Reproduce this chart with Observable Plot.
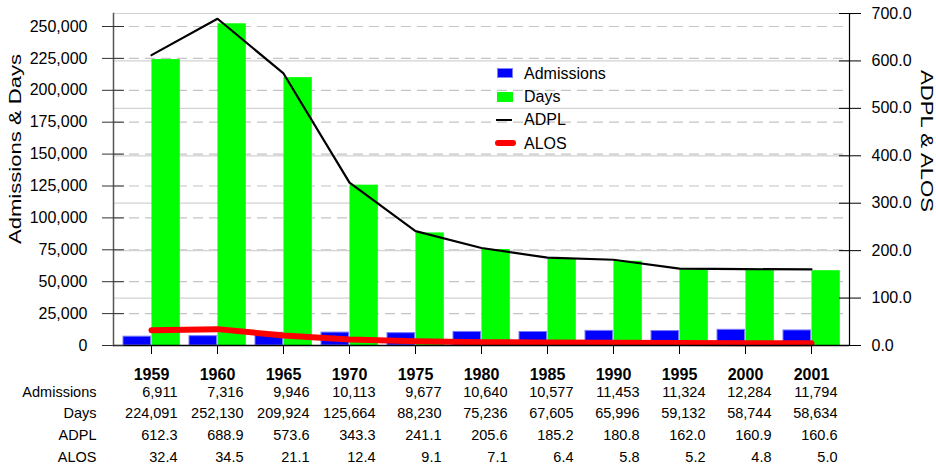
<!DOCTYPE html>
<html><head><meta charset="utf-8">
<script src="https://cdn.jsdelivr.net/npm/d3@7"></script>
<script src="https://cdn.jsdelivr.net/npm/@observablehq/plot@0.6"></script>
<style>
body{margin:0;background:#fff;font-family:"Liberation Sans",Arial,sans-serif;}
#wrap{position:relative;width:936px;height:468px;}
#wrap svg{display:block;}
.legend{position:absolute;left:495px;top:61.5px;font-size:16px;color:#000;}
.legend .row{height:23.4px;line-height:23.4px;position:relative;padding-left:29px;white-space:nowrap;}
.legend .sw{position:absolute;top:50%;}
.sw.blue{left:2px;width:14px;height:8px;margin-top:-5px;background:#0000ff;border:1px solid #8080ff;}
.sw.green{left:2px;width:16px;height:10px;margin-top:-5px;background:#00ff00;}
.sw.black{left:1px;width:16px;height:2px;margin-top:-1px;background:#000;}
.sw.red{left:0px;width:21px;height:6px;margin-top:-3px;background:#ff0000;border-radius:3px;}
</style></head><body>
<div id="wrap"></div>
<script>
const years = ["1959","1960","1965","1970","1975","1980","1985","1990","1995","2000","2001"];
const admissions = [6911,7316,9946,10113,9677,10640,10577,11453,11324,12284,11794];
const days = [224091,252130,209924,125664,88230,75236,67605,65996,59132,58744,58634];
const adpl = [612.3,688.9,573.6,343.3,241.1,205.6,185.2,180.8,162.0,160.9,160.6];
const alos = [32.4,34.5,21.1,12.4,9.1,7.1,6.4,5.8,5.2,4.8,5.0];
const leftTicks = [0,25000,50000,75000,100000,125000,150000,175000,200000,225000,250000];
const rightTicks = [0,100,200,300,400,500,600,700];
const rowLabels = ["Admissions","Days","ADPL","ALOS"];
const seriesNames = ["Admissions","Days","ADPL","ALOS"];
const leftTitle = "Admissions & Days";
const rightTitle = "ADPL & ALOS";

const YMAX = 260190;
const K = YMAX / 700;
const data = years.map((y, i) => ({year: y, admissions: admissions[i], days: days[i], adpl: adpl[i], alos: alos[i]}));
const fmtInt = d3.format(",");
const fmt1 = d3.format(".1f");
const rowFormatters = [d => fmtInt(d.admissions), d => fmtInt(d.days), d => fmt1(d.adpl), d => fmt1(d.alos)];
const rowDy = [51, 72, 94, 116];

const bw = (936 - 113 - 87) / years.length;
const half = bw / 2;

const tableMarks = [];
rowFormatters.forEach((f, i) => {
  tableMarks.push(Plot.text(data, {x: "year", text: f, frameAnchor: "bottom", dy: rowDy[i], dx: 26, textAnchor: "end", fontSize: 14.5, fill: "#000"}));
  tableMarks.push(Plot.text([rowLabels[i]], {text: d => d, frameAnchor: "bottom-left", dy: rowDy[i], dx: -17, textAnchor: "end", fontSize: 14.5, fill: "#000"}));
});

const chart = Plot.plot({
  width: 936, height: 468,
  marginLeft: 113, marginRight: 87, marginTop: 13, marginBottom: 123,
  x: {type: "band", domain: years, padding: 0},
  y: {domain: [0, YMAX]},
  style: {fontFamily: "'Liberation Sans', Arial, sans-serif", fontSize: "16px", color: "#000", background: "#fff"},
  marks: [
    Plot.ruleY(leftTicks, {y: d => d, stroke: "#c4c4c4", strokeDasharray: "10,6", strokeWidth: 1.2}),
    Plot.ruleY(rightTicks, {y: d => d * K, stroke: "#d2d2d2", strokeWidth: 1.2}),
    Plot.barY(data, {x: "year", y: "days", fill: "#00ff00", insetLeft: half, insetRight: 4.2}),
    Plot.barY(data, {x: "year", y: "admissions", fill: "#0000ff", stroke: "#7a7aff", strokeWidth: 1, insetLeft: 5, insetRight: half}),
    Plot.line(data, {x: "year", y: d => d.adpl * K, stroke: "#000", strokeWidth: 2.2}),
    Plot.line(data, {x: "year", y: d => d.alos * K, stroke: "#ff0000", strokeWidth: 6, strokeLinecap: "round"}),
    Plot.ruleY([0], {stroke: "#000", strokeWidth: 1.5}),
    Plot.frame({anchor: "left", stroke: "#555", strokeWidth: 1.5}),
    Plot.frame({anchor: "right", stroke: "#000", strokeWidth: 1.2}),
    Plot.axisY(leftTicks, {anchor: "left", tickSize: 11, tickPadding: 15, tickFormat: fmtInt, stroke: "#333", fontSize: 16, label: null}),
    Plot.axisY(leftTicks, {anchor: "left", tickSize: 11, dx: 11, tickFormat: () => "", stroke: "#333", label: null}),
    Plot.axisY(rightTicks.map(d => d * K), {anchor: "right", tickSize: 11, tickPadding: 11, tickFormat: d => fmt1(d / K), stroke: "#000", fontSize: 16, label: null}),
    Plot.axisY(rightTicks.map(d => d * K), {anchor: "right", tickSize: 11, dx: -11, tickFormat: () => "", stroke: "#000", label: null}),
    Plot.axisX({tickSize: 9, tickPadding: 14, fontSize: 16, fontWeight: "bold", label: null, stroke: "#000"}),
    Plot.text([leftTitle], {text: d => d, frameAnchor: "left", textAnchor: "middle", rotate: -90, dx: -98, dy: -30.5, fontSize: 16, fill: "#000"}),
    Plot.text([rightTitle], {text: d => d, frameAnchor: "right", textAnchor: "middle", rotate: 90, dx: 77, dy: -38.5, fontSize: 16, fill: "#000"}),
    ...tableMarks
  ]
});
d3.select(chart).selectAll("text").each(function() {
  if (this.textContent === leftTitle) { this.setAttribute("textLength", 190); this.setAttribute("lengthAdjust", "spacingAndGlyphs"); }
  if (this.textContent === rightTitle) { this.setAttribute("textLength", 142); this.setAttribute("lengthAdjust", "spacingAndGlyphs"); }
});
const wrap = document.getElementById("wrap");
wrap.appendChild(chart);

const legend = document.createElement("div");
legend.className = "legend";
const swClasses = ["blue", "green", "black", "red"];
seriesNames.forEach((name, i) => {
  const row = document.createElement("div");
  row.className = "row";
  const sw = document.createElement("span");
  sw.className = "sw " + swClasses[i];
  row.appendChild(sw);
  row.appendChild(document.createTextNode(name));
  legend.appendChild(row);
});
wrap.appendChild(legend);
</script>
</body></html>
